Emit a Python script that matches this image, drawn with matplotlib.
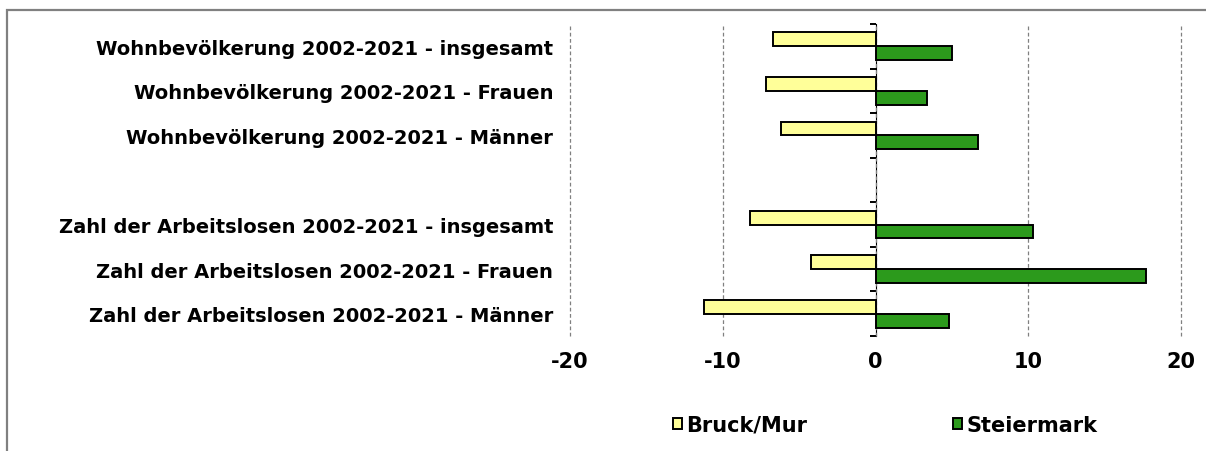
import numpy as np
import matplotlib
matplotlib.use("Agg")
import matplotlib.pyplot as plt
from matplotlib.patches import Rectangle

# Kategorien (leerer Eintrag = Abstand zwischen den Blöcken)
categories = [
    "Wohnbevölkerung 2002-2021 - insgesamt",
    "Wohnbevölkerung 2002-2021 - Frauen",
    "Wohnbevölkerung 2002-2021 - Männer",
    "",
    "Zahl der Arbeitslosen 2002-2021 - insgesamt",
    "Zahl der Arbeitslosen 2002-2021 - Frauen",
    "Zahl der Arbeitslosen 2002-2021 - Männer",
]
bruck_mur = [-6.7, -7.2, -6.2, np.nan, -8.2, -4.2, -11.2]
steiermark = [5.0, 3.4, 6.7, np.nan, 10.3, 17.7, 4.8]
x_ticks = [-20, -10, 0, 10, 20]

plt.rcParams['font.family'] = ['DejaVu Sans']
plt.rcParams['font.weight'] = 'bold'

fig = plt.figure(figsize=(12.06, 4.52), dpi=100)
ax = fig.add_axes([570 / 1206, 1 - 337 / 452, 611 / 1206, 312 / 452])

y = np.arange(len(categories))
h = 0.31
ax.barh(y - h / 2, bruck_mur, height=h, color='#FFFF99', edgecolor='black',
        linewidth=1.4, label='Bruck/Mur', zorder=3)
ax.barh(y + h / 2, steiermark, height=h, color='#2C9A1C', edgecolor='black',
        linewidth=1.4, label='Steiermark', zorder=3)

ax.set_xlim(-20, 20)
ax.set_ylim(len(categories) - 0.5, -0.5)
ax.set_xticks(x_ticks)
ax.set_xticklabels([str(v) for v in x_ticks], fontsize=15, fontweight='bold')
ax.tick_params(axis='x', length=0, pad=11)
ax.set_yticks(y)
ax.set_yticklabels(categories, fontsize=14, fontweight='bold')
ax.tick_params(axis='y', length=0, pad=12)
for s in ax.spines.values():
    s.set_visible(False)
ax.grid(axis='x', color='#808080', linestyle=(0, (3, 2)), linewidth=0.9, zorder=0)
for gl in ax.get_xgridlines():
    gl.set_clip_on(False)

# vertikale Achse bei x = 0 mit Teilstrichen an den Kategoriegrenzen
sec = ax.secondary_yaxis(0.5)
sec.set_yticks(np.arange(len(categories) + 1) - 0.5)
sec.set_yticklabels([])
sec.tick_params(axis='y', length=4, width=1.4, direction='in')
sec.spines['left'].set_linewidth(1.4)

# Rahmen
fig.patches.append(Rectangle((7 / 1206, -0.1), 1.2, 1.1 - 11 / 452,
                             transform=fig.transFigure, fill=False,
                             edgecolor='#808080', linewidth=1.6))

fig.legend(loc='center', bbox_to_anchor=(885 / 1206, 1 - 426 / 452), ncol=2,
           frameon=False, fontsize=15, handlelength=0.45, handleheight=0.45,
           handletextpad=0.2, columnspacing=7.0)

fig.savefig('out.png', dpi=100)
